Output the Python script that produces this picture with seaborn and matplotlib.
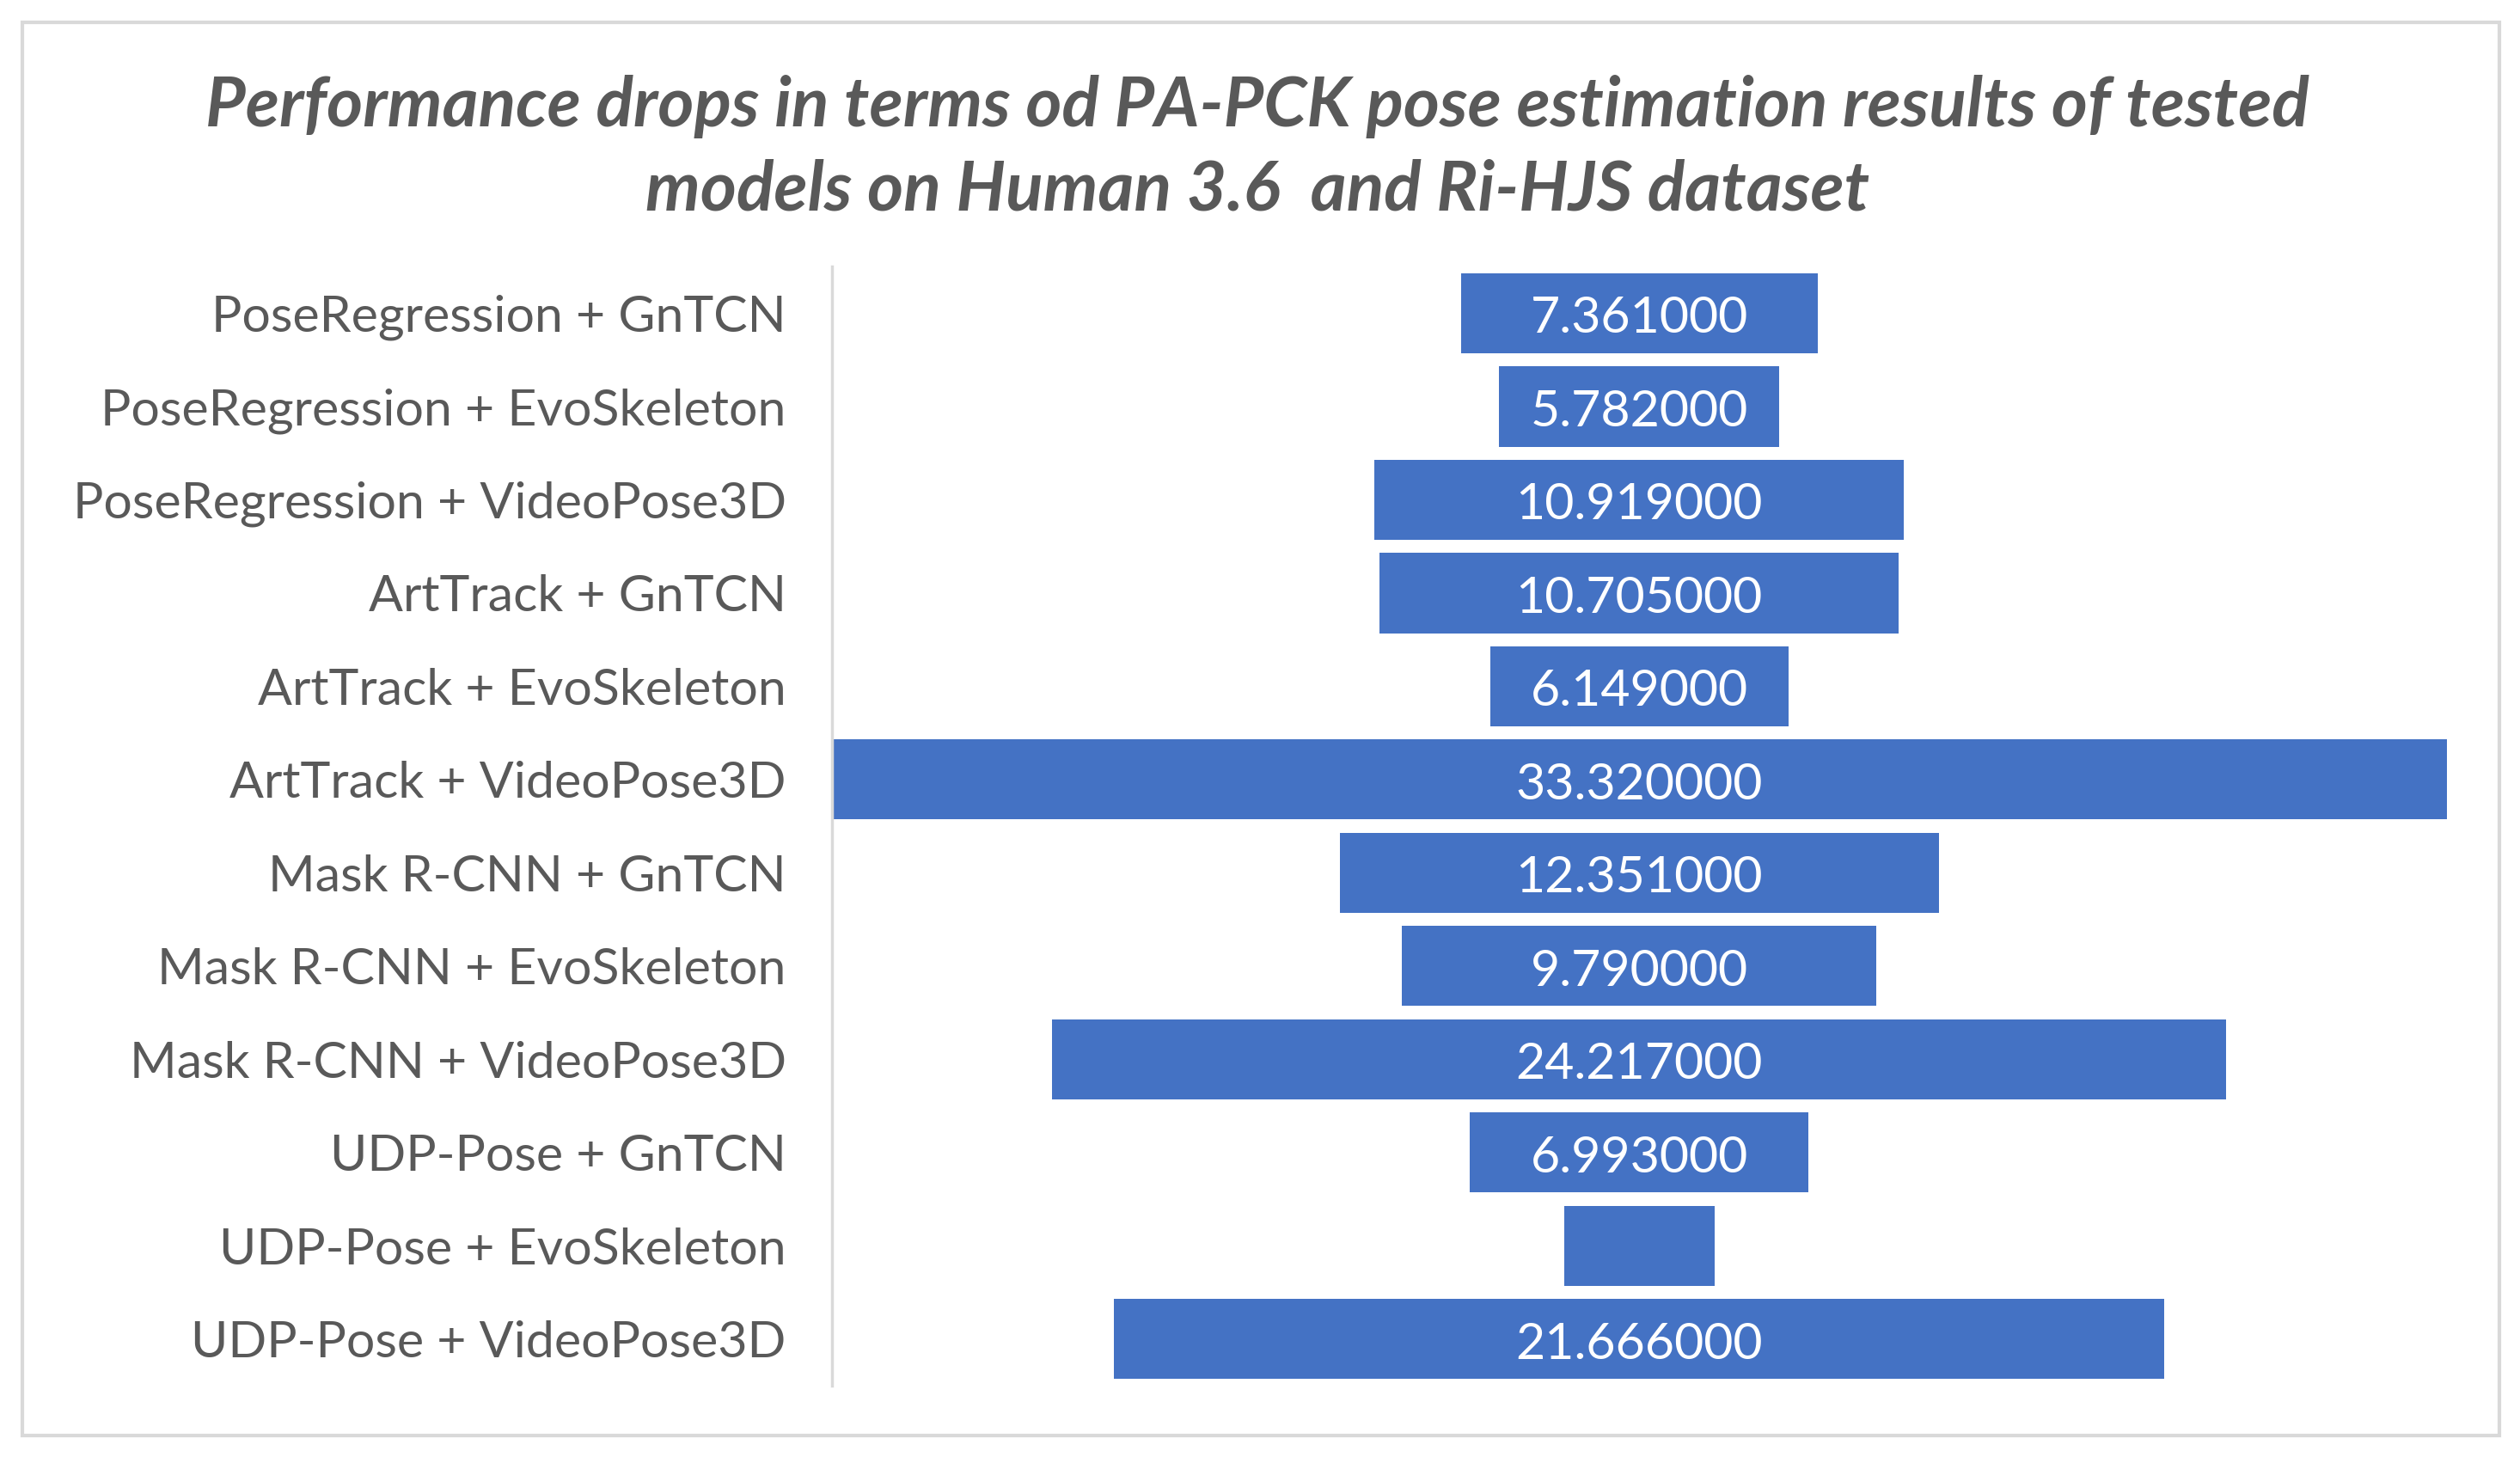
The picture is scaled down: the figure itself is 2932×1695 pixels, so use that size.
import matplotlib
matplotlib.use("Agg")
import matplotlib.pyplot as plt
import seaborn as sns
import pandas as pd
import numpy as np
from matplotlib.patches import Rectangle

models = [
    "PoseRegression + GnTCN",
    "PoseRegression + EvoSkeleton",
    "PoseRegression + VideoPose3D",
    "ArtTrack + GnTCN",
    "ArtTrack + EvoSkeleton",
    "ArtTrack + VideoPose3D",
    "Mask R-CNN + GnTCN",
    "Mask R-CNN + EvoSkeleton",
    "Mask R-CNN + VideoPose3D",
    "UDP-Pose + GnTCN",
    "UDP-Pose + EvoSkeleton",
    "UDP-Pose + VideoPose3D",
]
drops = [7.361, 5.782, 10.919, 10.705, 6.149, 33.32, 12.351, 9.79, 24.217, 6.993, 3.1, 21.666]
shown_labels = [True, True, True, True, True, True, True, True, True, True, False, True]

title = "Performance drops in terms od PA-PCK pose estimation results of tested\nmodels on Human 3.6  and Ri-HJS dataset"

BAR = "#4472C4"
GREY = "#595959"
FONT = "Lato"

sns.set_theme(style="white")
plt.rcParams["font.family"] = [FONT, "DejaVu Sans"]

df = pd.DataFrame({"model": models, "drop": drops})

fig = plt.figure(figsize=(29.32, 16.95), dpi=100)
ax = fig.add_axes([0.330, 0.049, 0.641, 0.768])

sns.barplot(data=df, x="drop", y="model", orient="h", color=BAR,
            saturation=1, width=0.86, ax=ax)

# center bars (funnel)
for p, v in zip(ax.patches, drops):
    p.set_x(-v / 2.0)
    p.set_width(v)
    p.set_edgecolor("none")

half = max(drops) / 2.0
ax.set_xlim(-half, half)
ax.set_ylim(len(models) - 0.5, -0.5)

for i, (v, show) in enumerate(zip(drops, shown_labels)):
    if show:
        ax.text(0, i + 0.06, f"{v:.6f}", ha="center", va="center", color="white",
                fontsize=42.5, family=[FONT, "DejaVu Sans"])

ax.set_xlabel("")
ax.set_ylabel("")
ax.set_xticks([])
ax.tick_params(axis="y", length=0, pad=38, labelsize=42.5, labelcolor=GREY)
for lbl in ax.get_yticklabels():
    lbl.set_y(lbl.get_position()[1])
for s in ["top", "right", "bottom"]:
    ax.spines[s].set_visible(False)
ax.spines["left"].set_color("#D9D9D9")
ax.spines["left"].set_linewidth(2.5)

fig.text(0.499, 0.898, title, ha="center", va="center", fontsize=58,
         fontweight="bold", fontstyle="italic", color=GREY, linespacing=1.4,
         multialignment="center")

fig.patches.append(Rectangle((0.0089, 0.0147), 0.983, 0.970, transform=fig.transFigure,
                             fill=False, edgecolor="#D9D9D9", linewidth=3))

fig.savefig("out.png", dpi=100, facecolor="white")
